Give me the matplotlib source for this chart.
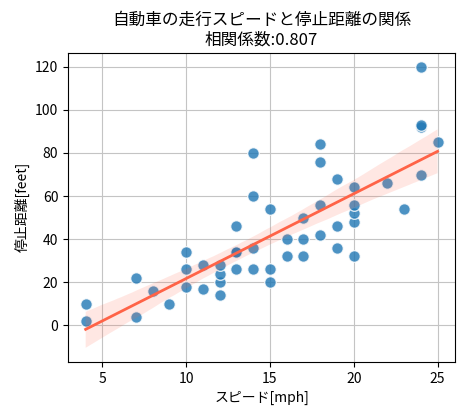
import matplotlib
matplotlib.use("Agg")
import matplotlib.pyplot as plt
import seaborn as sns
import numpy as np
import pandas as pd

speed = [4, 4, 7, 7, 8, 9, 10, 10, 10, 11, 11, 12, 12, 12, 12, 13, 13, 13, 13,
         14, 14, 14, 14, 15, 15, 15, 16, 16, 17, 17, 17, 18, 18, 18, 18, 19, 19,
         19, 20, 20, 20, 20, 20, 22, 23, 24, 24, 24, 24, 25]
dist = [2, 10, 4, 22, 16, 10, 18, 26, 34, 17, 28, 14, 20, 24, 28, 26, 34, 34, 46,
        26, 36, 60, 80, 20, 26, 54, 32, 40, 32, 40, 50, 42, 56, 76, 84, 36, 46,
        68, 32, 48, 52, 56, 64, 66, 54, 70, 92, 93, 120, 85]

plt.rcParams['font.family'] = ['Noto Sans CJK JP', 'DejaVu Sans']

df = pd.DataFrame({"speed": speed, "dist": dist})
r = np.corrcoef(df["speed"], df["dist"])[0, 1]

fig, ax = plt.subplots(figsize=(4.63, 4.15), dpi=100)
sns.regplot(data=df, x="speed", y="dist", ax=ax, seed=0,
            scatter_kws=dict(s=70, color="tab:blue", alpha=0.8, edgecolor="white", linewidths=1),
            line_kws=dict(color="tomato", linewidth=2))
ax.grid(True, color="#c4c4c4", linewidth=0.8)
ax.set_axisbelow(True)
ax.set_title("自動車の走行スピードと停止距離の関係\n相関係数:{:.3f}".format(r), fontsize=12)
ax.set_xlabel("スピード[mph]")
ax.set_ylabel("停止距離[feet]")
ax.set_xticks([5, 10, 15, 20, 25])
ax.set_yticks([0, 20, 40, 60, 80, 100, 120])
fig.subplots_adjust(left=0.147, right=0.983, top=0.873, bottom=0.128)
fig.savefig("out.png", dpi=100)
